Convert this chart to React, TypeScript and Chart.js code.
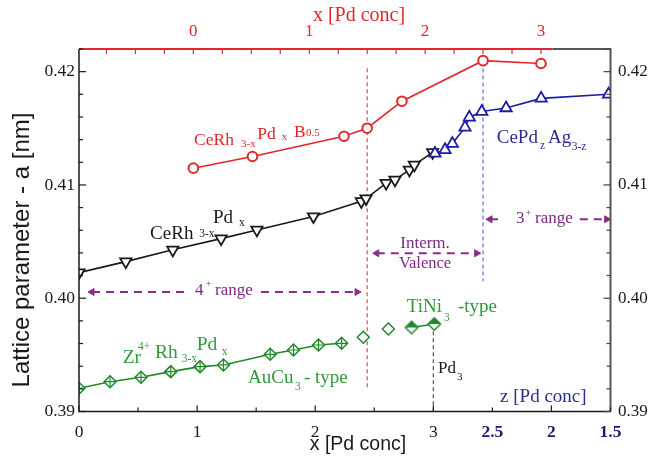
import React, { useEffect, useRef } from 'react';
import { Chart, registerables } from 'chart.js';

Chart.register(...registerables);

// ---------- data ----------
// CeRh(3-x)Pd(x): bottom axis x
const blackX = [0, 0.396, 0.794, 1.203, 1.506, 1.985, 2.39, 2.43, 2.6, 2.675, 2.797, 2.839, 2.994];
const blackY = [0.40226, 0.40323, 0.40427, 0.40526, 0.40603, 0.40721, 0.40855, 0.4088, 0.41016, 0.41045, 0.41133, 0.41177, 0.41288];
// CeRh(3-x)Pd(x)B0.5: top axis x
const redT = [0, 0.51, 1.3, 1.5, 1.8, 2.5, 3.0];
const redY = [0.41148, 0.41251, 0.4143, 0.41501, 0.41739, 0.42097, 0.42072];
// CePd(z)Ag(3-z): z values (axis runs 3 -> 1.5 to the right)
const blueZ = [2.986, 2.901, 2.839, 2.732, 2.695, 2.59, 2.384, 2.087, 1.517];
const blueY = [0.41278, 0.4131, 0.41365, 0.41508, 0.41596, 0.41648, 0.41679, 0.41764, 0.418];
// Zr(4+)Rh(3-x)Pd(x)
const greenX = [0, 0.263, 0.525, 0.777, 1.025, 1.223, 1.619, 1.816, 2.028, 2.223];
const greenY = [0.39205, 0.39263, 0.39302, 0.39352, 0.39396, 0.39411, 0.39505, 0.39543, 0.39587, 0.39602];
const greenOpenX = [2.407, 2.619];
const greenOpenY = [0.39655, 0.39728];
const greenHalfX = [2.816, 3.008];
const greenHalfY = [0.39742, 0.39772];

// ticks
const bottomTickValues = [0, 1, 2, 3, 3.5, 4, 4.5];
const bottomTickLabels = ['0', '1', '2', '3', '2.5', '2', '1.5'];
const topTickValues = [0, 1, 2, 3];
const topTickLabels = ['0', '1', '2', '3'];
const yTickValues = [0.39, 0.4, 0.41, 0.42];
const yTickLabels = ['0.39', '0.40', '0.41', '0.42'];

// reference lines
const redBoundaryT = 1.5;
const redBoundaryY = [0.4203, 0.3921];
const blueBoundaryT = 2.5;
const blueBoundaryY = [0.4209, 0.4015];
const pd3X = 3;
const pd3LineY = [0.3977, 0.39];

// range arrows: [start, gapStart, gapEnd, end], y
const fourPlusX = [0.11, 0.93, 1.54, 2.354];
const fourPlusY = 0.40055;
const intermX = [2.521, 3.367];
const intermY = 0.40397;
const threePlusX = [3.48, 3.58, 4.24, 4.468];
const threePlusY = 0.40697;

const zToAxis = (z: number) => 6 - z;

// ---------- style ----------
const RED = '#e3262b';
const BLACK = '#1a1a1a';
const BLUE = '#1c1ca6';
const BLUE_TXT = '#2b2b90';
const GREEN = '#1f8a2a';
const GREEN_TXT = '#2f9a3a';
const PURPLE = '#8a2d8a';
const PURPLE_TXT = '#7a2a80';
const NAVY = '#1a1a70';
const SERIF = "'Liberation Serif', 'Times New Roman', serif";
const SANS = "'Liberation Sans', Arial, sans-serif";

type Frag = { t: string; x: number; y: number; s: number; c: string; align?: CanvasTextAlign };
const labelFrags: Frag[] = [
  // red
  { t: 'CeRh', x: 0.974, y: 0.41353, s: 17.5, c: RED },
  { t: '3-x', x: 1.372, y: 0.41335, s: 11, c: RED },
  { t: 'Pd', x: 1.51, y: 0.41406, s: 17.5, c: RED },
  { t: 'x', x: 1.716, y: 0.41401, s: 11, c: RED },
  { t: 'B', x: 1.82, y: 0.41423, s: 17.5, c: RED },
  { t: '0.5', x: 1.922, y: 0.41432, s: 11, c: RED },
  // black
  { t: 'CeRh', x: 0.602, y: 0.40523, s: 19, c: BLACK },
  { t: '3-x', x: 1.018, y: 0.40542, s: 11.5, c: BLACK },
  { t: 'Pd', x: 1.135, y: 0.40661, s: 19, c: BLACK },
  { t: 'x', x: 1.355, y: 0.40638, s: 11.5, c: BLACK },
  // green
  { t: 'Zr', x: 0.37, y: 0.39431, s: 19.5, c: GREEN_TXT },
  { t: '4+', x: 0.5, y: 0.39543, s: 11.5, c: GREEN_TXT },
  { t: 'Rh', x: 0.644, y: 0.3947, s: 19.5, c: GREEN_TXT },
  { t: '3-x', x: 0.87, y: 0.3944, s: 11.5, c: GREEN_TXT },
  { t: 'Pd', x: 0.997, y: 0.39543, s: 19.5, c: GREEN_TXT },
  { t: 'x', x: 1.208, y: 0.39499, s: 11.5, c: GREEN_TXT },
  { t: 'AuCu', x: 1.431, y: 0.39249, s: 19, c: GREEN_TXT },
  { t: '3', x: 1.829, y: 0.3919, s: 11.5, c: GREEN_TXT },
  { t: '- type', x: 1.905, y: 0.39249, s: 19, c: GREEN_TXT },
  { t: 'TiNi', x: 2.775, y: 0.39876, s: 19, c: GREEN_TXT },
  { t: '3', x: 3.09, y: 0.39802, s: 11.5, c: GREEN_TXT },
  { t: '-type', x: 3.209, y: 0.39876, s: 19, c: GREEN_TXT },
  // blue
  { t: 'CePd', x: 3.537, y: 0.41368, s: 19, c: BLUE_TXT },
  { t: 'z', x: 3.903, y: 0.41315, s: 11.5, c: BLUE_TXT },
  { t: 'Ag', x: 3.971, y: 0.41368, s: 19, c: BLUE_TXT },
  { t: '3-z', x: 4.172, y: 0.41308, s: 11.5, c: BLUE_TXT },
  { t: 'z [Pd conc]', x: 3.565, y: 0.39087, s: 19, c: BLUE_TXT },
  // Pd3
  { t: 'Pd', x: 3.04, y: 0.39343, s: 17, c: BLACK },
  { t: '3', x: 3.201, y: 0.39278, s: 11, c: BLACK },
  // purple
  { t: 'Interm.', x: 2.93, y: 0.40443, s: 17, c: PURPLE_TXT, align: 'center' },
  { t: 'Valence', x: 2.93, y: 0.40267, s: 16.5, c: PURPLE_TXT, align: 'center' },
  { t: '4', x: 0.982, y: 0.40028, s: 17, c: PURPLE_TXT },
  { t: '+', x: 1.075, y: 0.40096, s: 10, c: PURPLE_TXT },
  { t: 'range', x: 1.152, y: 0.40028, s: 17, c: PURPLE_TXT },
  { t: '3', x: 3.7, y: 0.40664, s: 17, c: PURPLE_TXT },
  { t: '+', x: 3.782, y: 0.40726, s: 10, c: PURPLE_TXT },
  { t: 'range', x: 3.861, y: 0.40664, s: 17, c: PURPLE_TXT },
];

const pts = (xs: number[], ys: number[]) => xs.map((x, i) => ({ x, y: ys[i] }));

function makeHalfDiamond(color: string) {
  const c = document.createElement('canvas');
  const s = 16;
  c.width = s;
  c.height = s;
  const g = c.getContext('2d')!;
  const m = s / 2;
  const r = 6.2;
  g.fillStyle = '#fff';
  g.beginPath();
  g.moveTo(m, m - r); g.lineTo(m + r, m); g.lineTo(m, m + r); g.lineTo(m - r, m); g.closePath();
  g.fill();
  g.fillStyle = color;
  g.beginPath();
  g.moveTo(m - r, m); g.lineTo(m, m - r); g.lineTo(m + r, m); g.closePath();
  g.fill();
  g.strokeStyle = color;
  g.lineWidth = 1.5;
  g.beginPath();
  g.moveTo(m, m - r); g.lineTo(m + r, m); g.lineTo(m, m + r); g.lineTo(m - r, m); g.closePath();
  g.stroke();
  return c;
}

const decorPlugin = {
  id: 'decor',
  beforeDraw(chart: any) {
    const { ctx, width, height } = chart;
    ctx.save();
    ctx.fillStyle = '#fff';
    ctx.fillRect(0, 0, width, height);
    ctx.restore();
  },
  afterDatasetsDraw(chart: any) {
    const { ctx, chartArea } = chart;
    const { left, right, top, bottom } = chartArea;
    const sx = chart.scales.x;
    const sx2 = chart.scales.x2;
    const sy = chart.scales.y;
    ctx.save();
    // axis lines
    ctx.lineCap = 'butt';
    ctx.strokeStyle = BLACK;
    ctx.lineWidth = 1.5;
    ctx.beginPath();
    ctx.moveTo(left, top); ctx.lineTo(left, bottom); ctx.lineTo(right, bottom);
    ctx.stroke();
    ctx.strokeStyle = '#555';
    ctx.lineWidth = 2;
    ctx.beginPath();
    ctx.moveTo(right, bottom); ctx.lineTo(right, top); ctx.lineTo(sx2.getPixelForValue(3.1), top);
    ctx.stroke();
    ctx.strokeStyle = RED;
    ctx.beginPath();
    ctx.moveTo(left, top); ctx.lineTo(sx2.getPixelForValue(3.1), top);
    ctx.stroke();

    // y ticks (inward)
    ctx.lineWidth = 1.2;
    for (let i = 0; i <= 16; i++) {
      const v = 0.39 + i * 0.002;
      const py = sy.getPixelForValue(v);
      const len = i % 5 === 0 ? 7 : 4;
      ctx.strokeStyle = BLACK;
      ctx.beginPath(); ctx.moveTo(left, py); ctx.lineTo(left + len, py); ctx.stroke();
      ctx.strokeStyle = '#444';
      ctx.beginPath(); ctx.moveTo(right, py); ctx.lineTo(right - len, py); ctx.stroke();
    }
    // bottom ticks
    ctx.strokeStyle = BLACK;
    for (let i = 0; i <= 9; i++) {
      const v = i * 0.5;
      const px = sx.getPixelForValue(v);
      const len = i % 2 === 0 ? 6 : 4;
      ctx.beginPath(); ctx.moveTo(px, bottom); ctx.lineTo(px, bottom - len); ctx.stroke();
    }
    // top ticks (red)
    ctx.strokeStyle = RED;
    for (let i = -3; i <= 12; i++) {
      const v = i * 0.25;
      const px = sx2.getPixelForValue(v);
      ctx.beginPath(); ctx.moveTo(px, top); ctx.lineTo(px, top + 5); ctx.stroke();
    }

    // annotation text
    ctx.textBaseline = 'alphabetic';
    for (const f of labelFrags) {
      ctx.font = `${f.s}px ${SERIF}`;
      ctx.fillStyle = f.c;
      ctx.textAlign = f.align || 'left';
      ctx.fillText(f.t, sx.getPixelForValue(f.x), sy.getPixelForValue(f.y));
    }

    // axis titles
    ctx.textAlign = 'center';
    ctx.fillStyle = RED;
    ctx.font = `20px ${SERIF}`;
    ctx.fillText('x [Pd conc]', 359, 21);
    ctx.fillStyle = BLACK;
    ctx.font = `19.5px ${SANS}`;
    ctx.fillText('x [Pd conc]', 358, 450);
    ctx.save();
    ctx.translate(28.5, 250);
    ctx.rotate(-Math.PI / 2);
    ctx.font = `24px ${SANS}`;
    ctx.fillText('Lattice parameter - a [nm]', 0, 0);
    ctx.restore();
    ctx.restore();
  },
};

export default function App() {
  const ref = useRef<HTMLCanvasElement>(null);
  useEffect(() => {
    const half = makeHalfDiamond(GREEN);
    const greenPts = pts(greenX, greenY);
    const arrowRadius = [4, 0, 0, 0, 4];
    const arrowRot = [-90, 0, 0, 0, 90];
    const gapped = (xs: number[], y: number) => [
      { x: xs[0], y },
      { x: xs[1], y },
      { x: xs[1], y: null },
      { x: xs[2], y },
      { x: xs[3], y },
    ];
    const yScale = (position: 'left' | 'right', width: number, padding: number, size: number) => ({
      type: 'linear',
      position,
      min: 0.39,
      max: 0.422,
      grid: { display: false, drawTicks: false },
      border: { display: false },
      afterBuildTicks: (s: any) => { s.ticks = yTickValues.map((v) => ({ value: v })); },
      afterFit: (s: any) => { s.width = width; },
      ticks: {
        padding,
        color: BLACK,
        font: { family: SERIF, size },
        callback: (_v: any, i: number) => yTickLabels[i],
      },
    });
    const chart = new Chart(ref.current!, {
      type: 'line',
      data: {
        datasets: [
          { data: greenPts, showLine: false, pointStyle: 'cross', pointRadius: 6, pointBorderWidth: 1.2, pointBorderColor: GREEN, order: 1 },
          { data: greenPts, borderColor: GREEN, borderWidth: 1.6, pointStyle: 'rectRot', pointRadius: 6, pointBorderWidth: 1.5, pointBorderColor: GREEN, pointBackgroundColor: '#fff', order: 2 },
          { data: pts(greenOpenX, greenOpenY), showLine: false, pointStyle: 'rectRot', pointRadius: 6, pointBorderWidth: 1.5, pointBorderColor: GREEN, pointBackgroundColor: '#fff', order: 3 },
          { data: pts(greenHalfX, greenHalfY), borderColor: GREEN, borderWidth: 1.6, pointStyle: half, order: 3 },
          { data: blueZ.map((z, i) => ({ x: zToAxis(z), y: blueY[i] })), borderColor: BLUE, borderWidth: 1.6, pointStyle: 'triangle', pointRadius: 6.5, pointBorderWidth: 1.8, pointBorderColor: BLUE, pointBackgroundColor: '#fff', order: 4 },
          { data: pts(blackX, blackY), borderColor: BLACK, borderWidth: 1.6, pointStyle: 'triangle', pointRotation: 180, pointRadius: 6.5, pointBorderWidth: 1.8, pointBorderColor: BLACK, pointBackgroundColor: '#fff', order: 5 },
          { data: pts(redT, redY), xAxisID: 'x2', borderColor: RED, borderWidth: 1.6, pointStyle: 'circle', pointRadius: 4.8, pointBorderWidth: 2, pointBorderColor: RED, pointBackgroundColor: '#fff', order: 6 },
          { data: redBoundaryY.map((y) => ({ x: redBoundaryT, y })), xAxisID: 'x2', borderColor: RED, borderWidth: 1, borderDash: [4, 3], pointRadius: 0, order: 20 },
          { data: blueBoundaryY.map((y) => ({ x: blueBoundaryT, y })), xAxisID: 'x2', borderColor: '#6a6ae0', borderWidth: 1.2, borderDash: [4, 3], pointRadius: 0, order: 20 },
          { data: pd3LineY.map((y) => ({ x: pd3X, y })), borderColor: '#555', borderWidth: 1.2, borderDash: [4, 3], pointRadius: 0, order: 20 },
          { data: gapped(fourPlusX, fourPlusY), borderColor: PURPLE, borderWidth: 2, borderDash: [8, 6], pointStyle: 'triangle', pointRadius: arrowRadius, pointRotation: arrowRot, pointBackgroundColor: PURPLE, pointBorderColor: PURPLE, pointBorderWidth: 1, order: 20 },
          { data: intermX.map((x) => ({ x, y: intermY })), borderColor: PURPLE, borderWidth: 2, borderDash: [8, 6], pointStyle: 'triangle', pointRadius: 4, pointRotation: [-90, 90], pointBackgroundColor: PURPLE, pointBorderColor: PURPLE, pointBorderWidth: 1, order: 20 },
          { data: gapped(threePlusX, threePlusY), borderColor: PURPLE, borderWidth: 2, borderDash: [8, 6], pointStyle: 'triangle', pointRadius: arrowRadius, pointRotation: arrowRot, pointBackgroundColor: PURPLE, pointBorderColor: PURPLE, pointBorderWidth: 1, order: 20 },
        ] as any,
      },
      options: {
        responsive: false,
        animation: false,
        devicePixelRatio: 1,
        events: [],
        layout: { padding: 0 },
        elements: { line: { tension: 0 } },
        plugins: { legend: { display: false }, tooltip: { enabled: false } },
        scales: {
          x: {
            type: 'linear',
            position: 'bottom',
            min: 0,
            max: 4.5,
            grid: { display: false, drawTicks: false },
            border: { display: false },
            afterBuildTicks: (s: any) => { s.ticks = bottomTickValues.map((v) => ({ value: v })); },
            afterFit: (s: any) => { s.height = 57.5; },
            ticks: {
              padding: 10,
              autoSkip: false,
              maxRotation: 0,
              callback: (_v: any, i: number) => bottomTickLabels[i],
              color: (c: any) => (c.index >= 4 ? NAVY : BLACK),
              font: (c: any) => (c.index >= 4 ? { family: SERIF, size: 17.5, weight: 'bold' } : { family: SERIF, size: 17.5 }),
            },
          },
          x2: {
            type: 'linear',
            position: 'top',
            min: -0.987,
            max: 3.6,
            grid: { display: false, drawTicks: false },
            border: { display: false },
            afterBuildTicks: (s: any) => { s.ticks = topTickValues.map((v) => ({ value: v })); },
            afterFit: (s: any) => { s.height = 49; },
            ticks: {
              padding: 7,
              autoSkip: false,
              maxRotation: 0,
              color: RED,
              font: { family: SERIF, size: 17 },
              callback: (_v: any, i: number) => topTickLabels[i],
            },
          },
          y: yScale('left', 79, 4, 17.5),
          y2: yScale('right', 37.5, 7.5, 17),
        } as any,
      },
      plugins: [decorPlugin],
    } as any);
    return () => chart.destroy();
  }, []);
  return (
    <div style={{ position: 'absolute', left: 0, top: 0, width: 648, height: 469, background: '#fff' }}>
      <canvas ref={ref} width={648} height={469} style={{ display: 'block' }} />
    </div>
  );
}
